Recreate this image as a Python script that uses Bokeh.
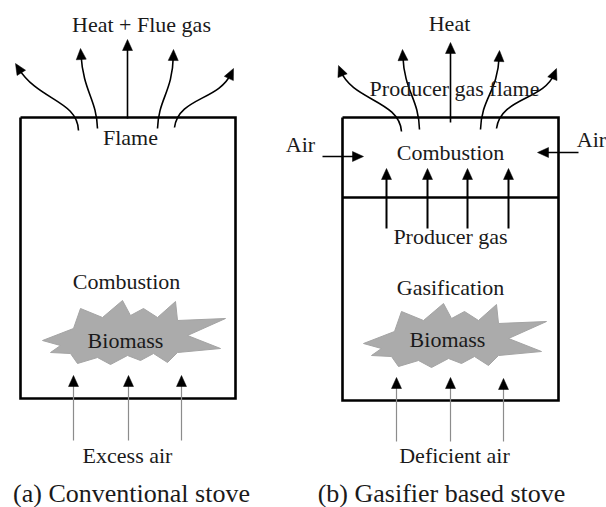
import numpy as np
from bokeh.plotting import figure
from bokeh.models import Range1d
from bokeh.embed import file_html
from bokeh.resources import INLINE
from bokeh.core.properties import value

# ---------------- diagram data (image-pixel units, y grows downward) ----------------
# stove boxes: x_left, x_right, y_top, y_bottom
box_x0 = [20, 342]
box_x1 = [235, 558]
box_top = [117, 117]
box_bottom = [398, 400]
divider_y = [197]          # separates combustion / gasification zones in stove (b)

# curved flue / heat arrows: start, control 1, control 2, tip
curve_x0 = [78, 97, 157, 174, 401, 419, 480, 496]
curve_y0 = [130, 128, 128, 127, 131, 129, 129, 128]
curve_cx1 = [77, 96, 158, 178, 399, 418, 481, 500]
curve_cy1 = [100, 98, 98, 97, 100, 97, 97, 97]
curve_cx2 = [38, 83, 172, 218, 352, 404, 497, 543]
curve_cy2 = [100, 92, 92, 100, 100, 92, 92, 100]
curve_tx = [15, 80, 173, 233, 338, 402, 499, 556]
curve_ty = [63, 48, 49, 68, 65, 49, 50, 68]

# straight black arrows: start -> tip
straight_x0 = [127, 450, 322, 578, 386, 427, 467, 508]
straight_y0 = [118, 122, 156, 152, 228, 228, 228, 228]
straight_x1 = [127, 450, 363, 537, 386, 427, 467, 508]
straight_y1 = [39, 42, 156, 152, 168, 168, 168, 168]
straight_w = [1.6, 1.6, 1.6, 1.6, 2.0, 2.0, 2.0, 2.0]

# incoming air arrows (thin grey shafts, black heads)
air_x = [73, 128, 181, 396, 450, 503]
air_y0 = [440, 440, 440, 441, 441, 441]
air_y1 = [375, 375, 375, 377, 377, 378]

# biomass burst: vertex offsets from centre
star_dx = [-88, -57, -50, -28, -8, 0, 13, 27, 45, 47, 95, 57, 90, 47, 37, 23, 10, -3, -20, -33, -53, -60, -80, -70]
star_dy = [7, -5, -25, -16, -33, -18, -25, -16, -32, -13, -15, 2, 15, 19, 29, 20, 27, 22, 31, 24, 30, 20, 19, 12]
star_cx = [130, 451]
star_cy = [333, 336]

# labels (x centre, y baseline)
label_text = ["Heat + Flue gas", "Flame", "Combustion", "Biomass", "Excess air",
              "Heat", "Producer gas flame", "Air", "Air", "Combustion", "Producer gas",
              "Gasification", "Biomass", "Deficient air"]
label_x = [141, 130, 126, 125, 127, 449, 454, 300, 591, 450, 450, 450, 447, 454]
label_y = [24, 137, 281, 340, 455, 23, 88, 144, 139, 152, 236, 287, 339, 455]
caption_text = ["(a) Conventional stove", "(b) Gasifier based stove"]
caption_x = [131, 441]
caption_y = [493, 493]

# ---------------- drawing ----------------
p = figure(width=606, height=507, output_backend="svg", toolbar_location=None,
           x_range=Range1d(0, 606), y_range=Range1d(507, 0),
           min_border=0, background_fill_color="white", border_fill_color="white")
p.axis.visible = False
p.grid.visible = False
p.outline_line_color = None

HEAD_L, HEAD_W = 11.0, 5.0


def head(tx, ty, dx, dy):
    n = np.hypot(dx, dy)
    ux, uy = dx / n, dy / n
    bx, by = tx - HEAD_L * ux, ty - HEAD_L * uy
    px, py = -uy, ux
    return [tx, bx + HEAD_W * px, bx - HEAD_W * px], [ty, by + HEAD_W * py, by - HEAD_W * py]


# biomass bursts
p.patches([[cx + d for d in star_dx] for cx in star_cx],
          [[cy + d for d in star_dy] for cy in star_cy],
          fill_color="#ababab", line_color="#a4a4a4", line_width=1)

# boxes
for x0, x1, yt, yb in zip(box_x0, box_x1, box_top, box_bottom):
    p.line([x0, x1, x1, x0, x0], [yt, yt, yb, yb, yt], line_color="black", line_width=2.6,
           line_join="miter")
p.segment(x0=[box_x0[1]], x1=[box_x1[1]], y0=divider_y, y1=divider_y,
          line_color="black", line_width=2.6)

hx, hy = [], []

# curved arrows
for i in range(len(curve_x0)):
    ux, uy = curve_tx[i] - curve_cx2[i], curve_ty[i] - curve_cy2[i]
    n = np.hypot(ux, uy)
    ex, ey = curve_tx[i] - 6 * ux / n, curve_ty[i] - 6 * uy / n
    p.bezier(x0=[curve_x0[i]], y0=[curve_y0[i]], x1=[ex], y1=[ey],
             cx0=[curve_cx1[i]], cy0=[curve_cy1[i]], cx1=[curve_cx2[i]], cy1=[curve_cy2[i]],
             line_color="black", line_width=1.6)
    a, b = head(curve_tx[i], curve_ty[i], ux, uy)
    hx.append(a); hy.append(b)

# straight arrows
for i in range(len(straight_x0)):
    dx, dy = straight_x1[i] - straight_x0[i], straight_y1[i] - straight_y0[i]
    n = np.hypot(dx, dy)
    p.line([straight_x0[i], straight_x1[i] - 6 * dx / n], [straight_y0[i], straight_y1[i] - 6 * dy / n],
           line_color="black", line_width=straight_w[i])
    a, b = head(straight_x1[i], straight_y1[i], dx, dy)
    hx.append(a); hy.append(b)

# incoming air arrows
p.segment(x0=air_x, x1=air_x, y0=air_y0, y1=[y + 6 for y in air_y1],
          line_color="#8c8c8c", line_width=1.2)
for x, y0, y1 in zip(air_x, air_y0, air_y1):
    a, b = head(x, y1, 0, y1 - y0)
    hx.append(a); hy.append(b)

p.patches(hx, hy, fill_color="black", line_color="black", line_width=0.5)

# labels
p.text(x=label_x, y=label_y, text=label_text, text_align="center", text_baseline="alphabetic",
       text_font=value("Liberation Serif"), text_font_size="22px", text_color="#1a1a1a")
p.text(x=caption_x, y=caption_y, text=caption_text, text_align="center", text_baseline="alphabetic",
       text_font=value("Liberation Serif"), text_font_size="26px", text_color="#1a1a1a")

open("out.html", "w").write(file_html(p, INLINE))
